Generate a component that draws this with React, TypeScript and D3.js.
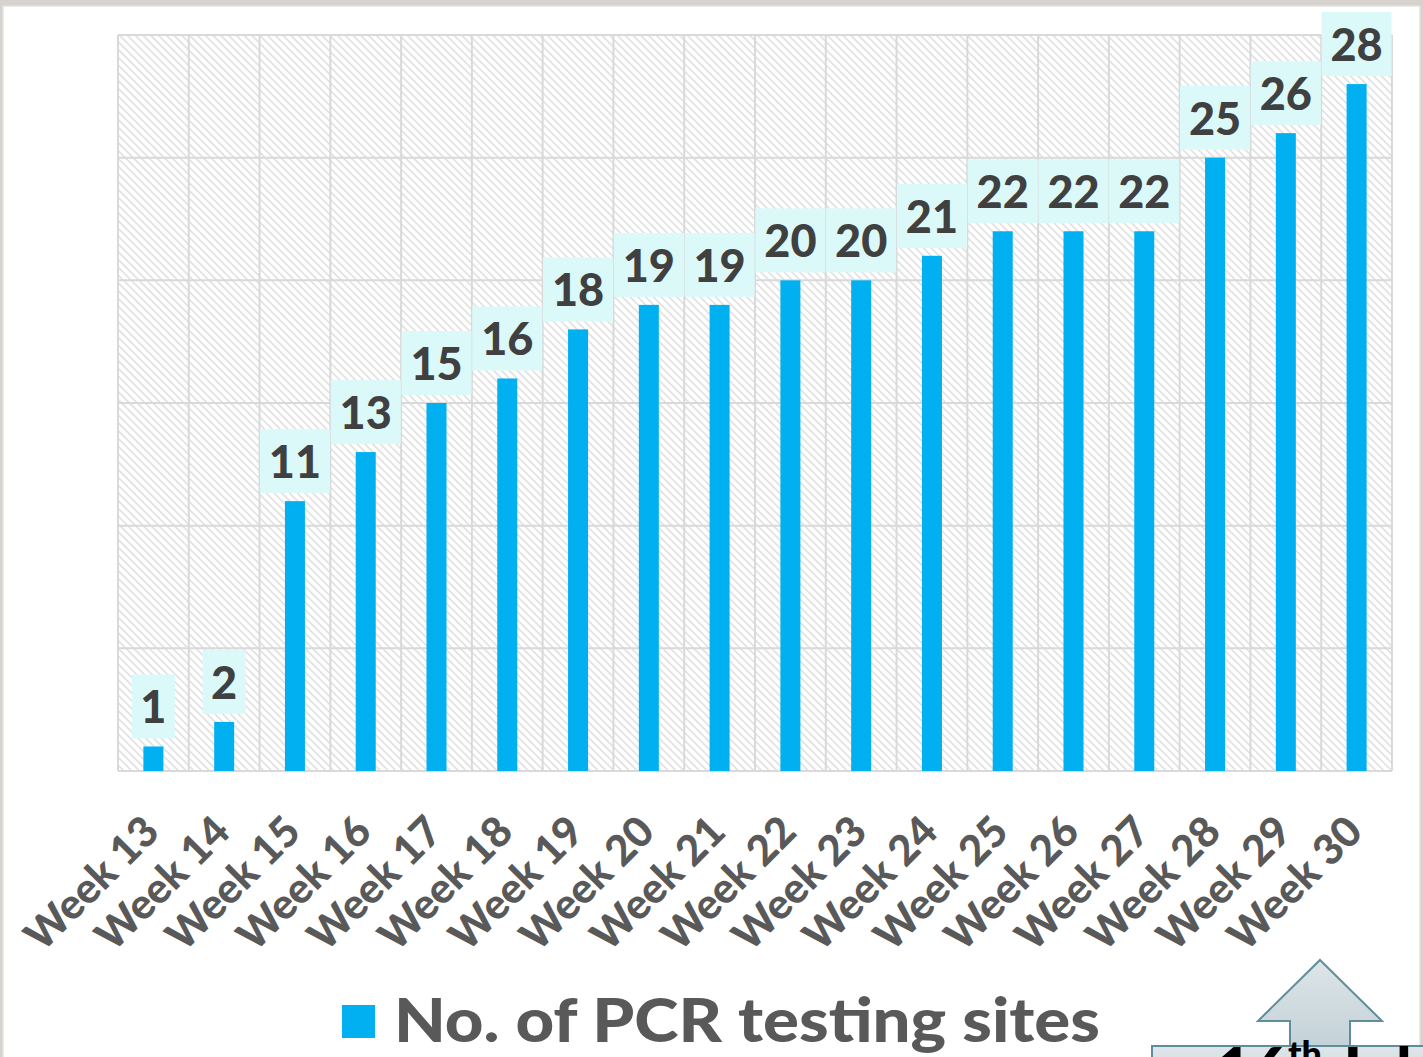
import React from 'react';
import * as d3 from 'd3';

const weeks = ['Week 13','Week 14','Week 15','Week 16','Week 17','Week 18','Week 19','Week 20','Week 21','Week 22','Week 23','Week 24','Week 25','Week 26','Week 27','Week 28','Week 29','Week 30'];
const sites = [1,2,11,13,15,16,18,19,19,20,20,21,22,22,22,25,26,28];
const yTicks = [0,5,10,15,20,25,30];
const legendLabel = 'No. of PCR testing sites';

const W = 1423, H = 1057;
const left = 118, right = 1392, top = 35, bottom = 771;

export default function App() {
  const x = d3.scaleBand<string>().domain(weeks).range([left, right]).paddingInner(0).paddingOuter(0);
  const y = d3.scaleLinear().domain([0, 30]).range([bottom, top]);
  const bw = 20;
  const font = 'Lato, "Open Sans", sans-serif';
  const arrowPath = d3.path();
  arrowPath.moveTo(1320, 960);
  arrowPath.lineTo(1382, 1021);
  arrowPath.lineTo(1350, 1021);
  arrowPath.lineTo(1350, 1046);
  arrowPath.lineTo(1290, 1046);
  arrowPath.lineTo(1290, 1021);
  arrowPath.lineTo(1258, 1021);
  arrowPath.closePath();
  return (
    <svg width={W} height={H} style={{ position: 'absolute', left: 0, top: 0, display: 'block' }}>
      <defs>
        <pattern id="hatch" width="5.5" height="5.5" patternUnits="userSpaceOnUse" patternTransform="rotate(45)">
          <rect width="5.5" height="5.5" fill="#ffffff" />
          <rect y="0" width="5.5" height="1.8" fill="#e3e3e3" />
        </pattern>
        <linearGradient id="arrowGrad" x1="0" y1="0" x2="0" y2="1">
          <stop offset="0" stopColor="#dde5e8" />
          <stop offset="1" stopColor="#c4d2d8" />
        </linearGradient>
      </defs>
      <rect x={0} y={0} width={W} height={H} fill="#d6d3ce" />
      <rect x={3} y={6} width={1417} height={H} fill="#ffffff" stroke="#e2e2e2" strokeWidth={1.5} />
      <rect x={left} y={top} width={right - left} height={bottom - top} fill="url(#hatch)" />
      {yTicks.map(t => (
        <line key={'h' + t} x1={left} x2={right} y1={y(t)} y2={y(t)} stroke="#d9d9d9" strokeWidth={2} />
      ))}
      {[...weeks.map(w => x(w) as number), right].map((v, i) => (
        <line key={'v' + i} x1={v} x2={v} y1={top} y2={bottom} stroke="#d9d9d9" strokeWidth={2} />
      ))}
      {weeks.map((w, i) => {
        const cx = (x(w) as number) + x.bandwidth() / 2;
        return (
          <rect key={'b' + w} x={cx - bw / 2} y={y(sites[i])} width={bw} height={bottom - y(sites[i])} fill="#00b0f0" />
        );
      })}
      {weeks.map((w, i) => {
        const cx = (x(w) as number) + x.bandwidth() / 2;
        const label = String(sites[i]);
        const boxW = label.length === 1 ? 43 : 70;
        const boxTop = y(sites[i]) - 8 - 64;
        return (
          <g key={'l' + w}>
            <rect x={cx - boxW / 2} y={boxTop} width={boxW} height={64} fill="#dcf9fa" />
            <text x={cx} y={boxTop + 49} textAnchor="middle" fontFamily={font} fontWeight={900} fontSize={45} fill="#404040">{label}</text>
          </g>
        );
      })}
      {weeks.map(w => {
        const cx = (x(w) as number) + x.bandwidth() / 2;
        return (
          <text key={'t' + w} transform={`translate(${cx + 8},${834}) rotate(-45)`} textAnchor="end" fontFamily={font} fontWeight={900} fontSize={42} fill="#595959">{w}</text>
        );
      })}
      <rect x={342} y={1005} width={33} height={33} fill="#00b0f0" />
      <text x={394} y={1042} fontFamily={font} fontWeight={900} fontSize={60} fill="#595959" textLength={706} lengthAdjust="spacingAndGlyphs">{legendLabel}</text>
      <path d={arrowPath.toString()} fill="url(#arrowGrad)" stroke="#5f8d9b" strokeWidth={2} />
      <rect x={1152} y={1046} width={400} height={80} fill="url(#arrowGrad)" stroke="#5f8d9b" strokeWidth={2} />
      <text x={1216} y={1093} fontFamily={font} fontWeight={900} fontSize={62} fill="#000000">
        16<tspan fontSize={36} dy={-26}>th</tspan><tspan dy={26}> July</tspan>
      </text>
    </svg>
  );
}
